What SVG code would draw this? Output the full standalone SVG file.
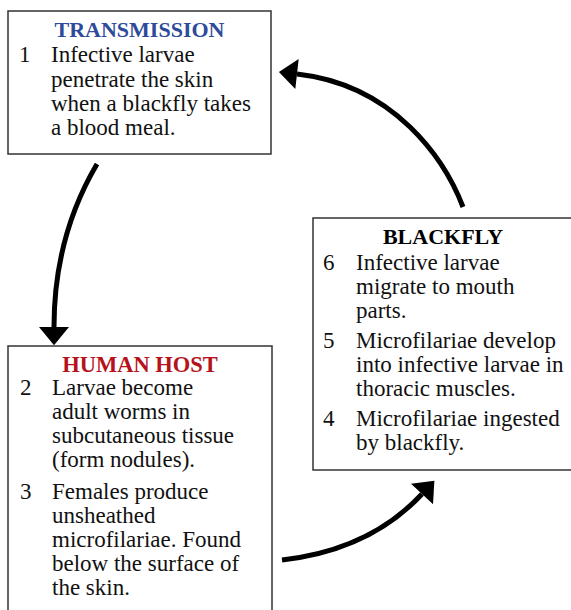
<svg xmlns="http://www.w3.org/2000/svg" width="571" height="610" viewBox="0 0 571 610">
  <defs>
    <style>
      .box { fill: #ffffff; stroke: #333333; stroke-width: 1.5; }
      .title { font-family: "Liberation Serif", "Times New Roman", serif; font-weight: bold; font-size: 22px; text-anchor: middle; }
      .body { font-family: "Liberation Serif", "Times New Roman", serif; font-size: 23px; fill: #111111; }
      .conn { fill: none; stroke: #000000; stroke-width: 5; }
    </style>
    <marker id="head" markerUnits="userSpaceOnUse" markerWidth="20" markerHeight="30" refX="0" refY="14" orient="auto" viewBox="0 0 18 28">
      <polygon points="0,0 17,14 0,28" fill="#000000"/>
    </marker>
  </defs>
  <rect width="571" height="610" fill="#ffffff"/>

  <g id="transmission">
    <rect class="box" x="8" y="11" width="263" height="143"/>
    <text class="title" x="139.5" y="37" fill="#2e4a9a">TRANSMISSION</text>
    <text class="body" x="19" y="62">1</text>
    <text class="body" x="51" y="62">Infective larvae</text>
    <text class="body" x="51" y="86.5">penetrate the skin</text>
    <text class="body" x="51" y="111">when a blackfly takes</text>
    <text class="body" x="51" y="135">a blood meal.</text>
  </g>

  <g id="human-host">
    <rect class="box" x="8" y="346" width="264" height="270"/>
    <text class="title" x="140" y="372" fill="#b5121b" style="font-size:22.5px">HUMAN HOST</text>
    <text class="body" x="20" y="395">2</text>
    <text class="body" x="52" y="395">Larvae become</text>
    <text class="body" x="52" y="419">adult worms in</text>
    <text class="body" x="52" y="443">subcutaneous tissue</text>
    <text class="body" x="52" y="467">(form nodules).</text>
    <text class="body" x="20" y="499">3</text>
    <text class="body" x="52" y="499">Females produce</text>
    <text class="body" x="52" y="523">unsheathed</text>
    <text class="body" x="52" y="547">microfilariae. Found</text>
    <text class="body" x="52" y="571">below the surface of</text>
    <text class="body" x="52" y="595">the skin.</text>
  </g>

  <g id="blackfly">
    <rect class="box" x="313" y="218" width="262" height="252"/>
    <text class="title" x="443" y="244" fill="#000000">BLACKFLY</text>
    <text class="body" x="323" y="270">6</text>
    <text class="body" x="356" y="270">Infective larvae</text>
    <text class="body" x="356" y="294">migrate to mouth</text>
    <text class="body" x="356" y="318">parts.</text>
    <text class="body" x="323" y="348">5</text>
    <text class="body" x="356" y="348">Microfilariae develop</text>
    <text class="body" x="356" y="372">into infective larvae in</text>
    <text class="body" x="356" y="396">thoracic muscles.</text>
    <text class="body" x="323" y="426">4</text>
    <text class="body" x="356" y="426">Microfilariae ingested</text>
    <text class="body" x="356" y="450">by blackfly.</text>
  </g>

  <g id="connectors">
    <path class="conn" d="M97,164 Q54,237 54,327" marker-end="url(#head)"/>
    <path class="conn" d="M282,560 Q370,550 422,494" marker-end="url(#head)"/>
    <path class="conn" d="M463,207 C445,160 395,85 297,74" marker-end="url(#head)"/>
  </g>
</svg>
